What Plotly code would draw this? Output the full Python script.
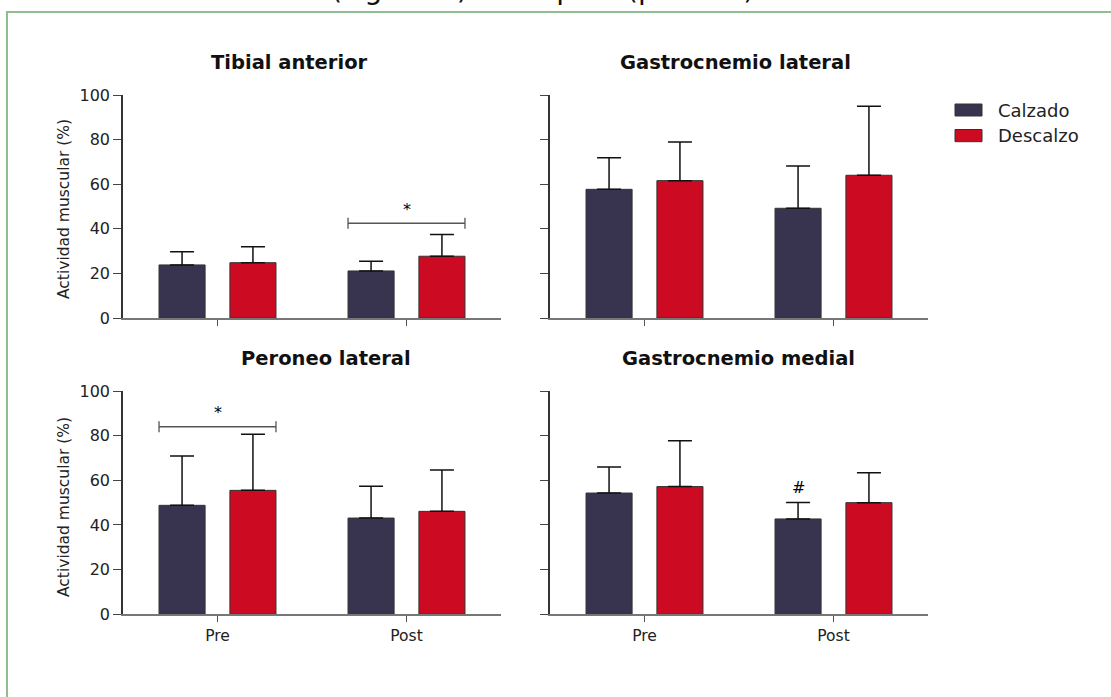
import plotly.graph_objects as go

# ---------------- data ----------------
categories = ["Pre", "Post"]
series_names = ["Calzado", "Descalzo"]
muscles = ["Tibial anterior", "Gastrocnemio lateral", "Peroneo lateral", "Gastrocnemio medial"]

tibial_calzado = [23.8, 21.1]
tibial_calzado_err = [5.9, 4.3]
tibial_descalzo = [24.8, 27.7]
tibial_descalzo_err = [7.2, 9.7]

gastlat_calzado = [57.7, 49.2]
gastlat_calzado_err = [14.2, 19.0]
gastlat_descalzo = [61.6, 64.0]
gastlat_descalzo_err = [17.3, 30.9]

peroneo_calzado = [48.8, 43.1]
peroneo_calzado_err = [22.1, 14.3]
peroneo_descalzo = [55.5, 46.1]
peroneo_descalzo_err = [25.1, 18.5]

gastmed_calzado = [54.3, 42.7]
gastmed_calzado_err = [11.7, 7.4]
gastmed_descalzo = [57.2, 50.0]
gastmed_descalzo_err = [20.5, 13.4]

y_ticks = [0, 20, 40, 60, 80, 100]
y_title = "Actividad muscular (%)"

# significance marks: (panel index, category index, level, symbol)
significance = [(0, 1, 42.5, "*"), (2, 0, 84.0, "*")]
# within-group marks: (panel index, category index, series index, symbol)
hash_marks = [(3, 1, 0, "#")]

top_text = "de actividad muscular (Figura 4) en el post (p<0.05)"

# ---------------- style ----------------
W, H = 1111, 697
C_CALZ = "#38344F"
C_DESC = "#CC0B22"
FONT = "DejaVu Sans"
BARGAP = 0.25
BARGROUPGAP = 0.35

def px_x(p):
    return p / W

def px_y(p):
    return 1 - p / H

x_domains = [(123, 501), (550, 928), (123, 501), (550, 928)]
y_domains = [(318, 95), (318, 95), (614.3, 391), (614.3, 391)]

data_sets = [
    (tibial_calzado, tibial_calzado_err, tibial_descalzo, tibial_descalzo_err),
    (gastlat_calzado, gastlat_calzado_err, gastlat_descalzo, gastlat_descalzo_err),
    (peroneo_calzado, peroneo_calzado_err, peroneo_descalzo, peroneo_descalzo_err),
    (gastmed_calzado, gastmed_calzado_err, gastmed_descalzo, gastmed_descalzo_err),
]

fig = go.Figure()
x_idx = list(range(len(categories)))

for i, (cm, ce, dm, de) in enumerate(data_sets):
    sfx = "" if i == 0 else str(i + 1)
    for name, vals, errs, col in [
        (series_names[0], cm, ce, C_CALZ),
        (series_names[1], dm, de, C_DESC),
    ]:
        fig.add_trace(go.Bar(
            x=x_idx, y=vals, name=name,
            marker=dict(color=col, line=dict(color="#333333", width=1)),
            error_y=dict(type="data", array=errs, arrayminus=[0] * len(errs),
                         symmetric=False, color="#111111", thickness=1.5, width=12),
            xaxis="x" + sfx, yaxis="y" + sfx, showlegend=False,
        ))
    xd = x_domains[i]
    yd = y_domains[i]
    bottom = i >= 2
    left = i % 2 == 0
    fig.layout["xaxis" + sfx] = dict(
        domain=[px_x(xd[0]), px_x(xd[1])], range=[-0.5, 1.5],
        tickvals=x_idx, ticktext=categories, showticklabels=bottom,
        ticks="outside", ticklen=6, tickcolor="#555555", tickwidth=1,
        showline=True, linecolor="#777777", linewidth=1.5,
        showgrid=False, zeroline=False, anchor="y" + sfx,
        tickfont=dict(size=15.5, color="#222222", family=FONT), automargin=False,
    )
    fig.layout["yaxis" + sfx] = dict(
        domain=[px_y(yd[0]), px_y(yd[1])], range=[0, 100],
        tickvals=y_ticks, showticklabels=left,
        ticks="outside", ticklen=8, tickcolor="#444444", tickwidth=1,
        showline=True, linecolor="#333333", linewidth=1.5,
        showgrid=False, zeroline=False, anchor="x" + sfx,
        tickfont=dict(size=16, color="#222222", family=FONT), automargin=False,
    )

# bar geometry (for brackets / marks)
slot = (1 - BARGAP) / 2
bar_w = slot * (1 - BARGROUPGAP)
offsets = [-slot / 2, slot / 2]

shapes = []
annotations = []

for (pi, ci, lvl, sym) in significance:
    sfx = "" if pi == 0 else str(pi + 1)
    xa, ya = "x" + sfx, "y" + sfx
    xl = ci + offsets[0] - bar_w / 2
    xr = ci + offsets[1] + bar_w / 2
    shapes.append(dict(type="line", xref=xa, yref=ya, x0=xl, x1=xr, y0=lvl, y1=lvl,
                       line=dict(color="#555555", width=1.3)))
    for xx in (xl, xr):
        shapes.append(dict(type="line", xref=xa, yref=ya, x0=xx, x1=xx, y0=lvl - 2.5, y1=lvl + 2.5,
                           line=dict(color="#555555", width=1.3)))
    annotations.append(dict(text=sym, xref=xa, yref=ya, x=ci, y=lvl + 1, yanchor="bottom",
                            showarrow=False, font=dict(size=16, color="#000000", family=FONT)))

for (pi, ci, si, sym) in hash_marks:
    sfx = "" if pi == 0 else str(pi + 1)
    vals, errs = data_sets[pi][si * 2], data_sets[pi][si * 2 + 1]
    annotations.append(dict(text=sym, xref="x" + sfx, yref="y" + sfx, x=ci + offsets[si],
                            y=vals[ci] + errs[ci] + 1.5, yanchor="bottom", showarrow=False,
                            font=dict(size=16, color="#000000", family=FONT)))

# panel titles
title_pos = [(289, 62), (735, 62), (326, 358), (738, 358)]
for name, (tx, ty) in zip(muscles, title_pos):
    annotations.append(dict(text="<b>" + name + "</b>", xref="paper", yref="paper",
                            x=px_x(tx), y=px_y(ty), xanchor="center", yanchor="middle",
                            showarrow=False, font=dict(size=19.5, color="#111111", family=FONT)))

# y axis titles
for ty in (209, 507):
    annotations.append(dict(text=y_title, xref="paper", yref="paper", x=px_x(64), y=px_y(ty),
                            textangle=-90, xanchor="center", yanchor="middle", showarrow=False,
                            font=dict(size=15.5, color="#222222", family=FONT)))

# legend
leg_rows = [(104, 116, 110), (129.5, 141.7, 135.5)]
for name, col, (y0, y1, yt) in zip(series_names, [C_CALZ, C_DESC], leg_rows):
    shapes.append(dict(type="rect", xref="paper", yref="paper", x0=px_x(955), x1=px_x(982),
                       y0=px_y(y1), y1=px_y(y0), fillcolor=col, line=dict(color="#333333", width=1)))
    annotations.append(dict(text=name, xref="paper", yref="paper", x=px_x(996), y=px_y(yt),
                            xanchor="left", yanchor="middle", showarrow=False,
                            font=dict(size=18, color="#222222", family=FONT)))

# frame
shapes.append(dict(type="rect", xref="paper", yref="paper", x0=px_x(7), x1=1.05,
                   y0=-0.05, y1=px_y(12), line=dict(color="#8FBF8F", width=2), layer="below"))

# text line cut at the top edge (as in the source image)
annotations.append(dict(text=top_text, xref="paper", yref="paper", x=px_x(4), y=px_y(8),
                        xanchor="left", yanchor="bottom", showarrow=False,
                        font=dict(size=28.5, color="#111111", family=FONT)))

fig.update_layout(
    width=W, height=H, margin=dict(l=0, r=0, t=0, b=0),
    paper_bgcolor="white", plot_bgcolor="white",
    barmode="group", bargap=BARGAP, bargroupgap=BARGROUPGAP,
    font=dict(family=FONT, color="#222222"),
    shapes=shapes, annotations=annotations, showlegend=False,
)

fig.write_html("out.html", config={"displayModeBar": False},
               post_script="document.body.style.margin='0';")
